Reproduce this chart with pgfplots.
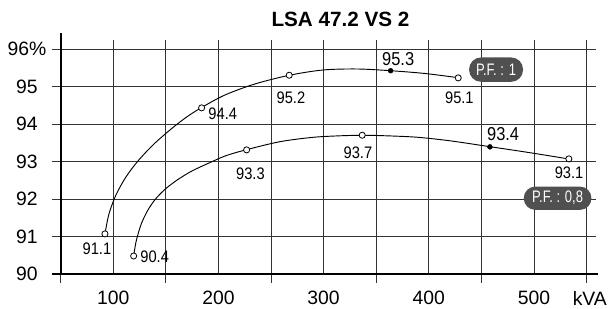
\documentclass[border=0pt]{standalone}
\usepackage{pgfplots}
\pgfplotsset{compat=1.18}
\usepackage{fontspec}
\setmainfont{Liberation Sans}
\newfontfamily\condfont{Liberation Sans}[FakeStretch=0.88]
\newfontfamily\pffont{Liberation Sans}[FakeStretch=0.78]
\definecolor{pill}{HTML}{505050}
\definecolor{gridc}{HTML}{333333}
\begin{document}
\begin{tikzpicture}
\path[use as bounding box] (-45.5pt,-26.25pt) rectangle (410.5pt,205.5pt);
\begin{axis}[
  at={(0pt,0pt)}, anchor=south west,
  scale only axis, width=401.5pt, height=175.5pt,
  xmin=50, xmax=559, ymin=90, ymax=96.24,
  axis line style={draw=none},
  clip=false,
  xtick={100,200,300,400,500}, xticklabels={100,200,300,400,500},
  minor xtick={50,150,250,350,450,550},
  ytick={90,91,92,93,94,95,96}, yticklabels={90,91,92,93,94,95,96\%},
  xtick pos=bottom, ytick pos=left,
  tick align=outside,
  major tick length=6.75pt, minor tick length=6.75pt,
  major x tick style={draw=none},
  minor x tick style={gridc, line width=0.6pt},
  major y tick style={gridc, line width=0.6pt},
  grid=both,
  major grid style={gridc, line width=0.6pt},
  minor grid style={gridc, line width=0.6pt},
  /pgf/number format/assume math mode=true,
  tick label style={font=\fontsize{14.5}{16}\selectfont},
  xticklabel style={anchor=base, inner sep=0pt, yshift=-16.5pt},
  yticklabel style={anchor=center, inner sep=0pt, xshift=-18.5pt},
]
% P.F. 1 curve
\addplot[black, line width=0.7pt, smooth, tension=0.5] coordinates {
(92.11,91.067) (95.91,91.60) (102.57,92.107) (112.07,92.587) (123.48,93.013)
(137.74,93.44) (153.90,93.84) (169.11,94.173) (184.03,94.44) (206.18,94.773)
(234.70,95.067) (267.30,95.299) (299.33,95.44) (331.65,95.467) (363.69,95.421)
(396.29,95.347) (427.95,95.235)};
% P.F. 0.8 curve
\addplot[black, line width=0.7pt, smooth, tension=0.5] coordinates {
(119.39,90.48) (122.05,90.907) (126.81,91.347) (132.98,91.707) (140.59,92.013)
(150.10,92.28) (161.50,92.52) (174.81,92.747) (190.02,92.947) (207.13,93.155)
(226.81,93.315) (258.46,93.528) (290.11,93.645) (315.49,93.685) (336.69,93.699)
(356.65,93.688) (388.40,93.648) (420.06,93.552) (458.08,93.395) (496.10,93.235)
(533.17,93.067)};
% open markers
\addplot[only marks, mark=*, mark size=2.3pt, mark options={fill=white, draw=black, line width=0.6pt}] coordinates {
(92.1,91.07) (184.0,94.43) (267.3,95.30) (428.0,95.23)
(119.4,90.48) (226.8,93.31) (336.7,93.70) (533.2,93.07)};
% filled markers
\addplot[only marks, mark=*, mark size=1.8pt, mark options={fill=black, draw=black}] coordinates {
(363.7,95.42) (458.1,93.39)};
% axis lines
\draw[line width=1.5pt] (axis cs:50,90) -- (axis cs:50,96.43);
\draw[line width=1.3pt] (axis cs:41.7,90) -- (axis cs:560.7,90);
% value labels
\begin{scope}[every node/.style={anchor=base, inner sep=0pt, font=\condfont\fontsize{12.5}{14}\selectfont}]
\node at (axis cs:84.5,90.533) {91.1};
\node at (axis cs:139.4,90.301) {90.4};
\node at (axis cs:204.1,94.133) {94.4};
\node at (axis cs:268.9,94.552) {95.2};
\node at (axis cs:230.4,92.525) {93.3};
\node at (axis cs:332.6,93.085) {93.7};
\node at (axis cs:429.1,94.552) {95.1};
\node at (axis cs:533.4,92.552) {93.1};
\end{scope}
\begin{scope}[every node/.style={anchor=base, inner sep=0pt, font=\condfont\fontsize{14}{16}\selectfont}]
\node at (axis cs:370.9,95.573) {95.3};
\node at (axis cs:470.7,93.573) {93.4};
\end{scope}
% P.F. pills
\node[fill=pill, text=white, rounded corners=9pt, minimum height=18.3pt, minimum width=40.5pt, inner sep=0pt, font=\pffont\fontsize{12.5}{14}\selectfont] at (axis cs:464,95.45) {P.F. : 1};
\node[fill=pill, text=white, rounded corners=8.7pt, minimum height=17.5pt, minimum width=50.8pt, inner sep=0pt, font=\pffont\fontsize{12.5}{14}\selectfont] at (axis cs:522.5,92.02) {P.F. : 0,8};
% title and unit
\node[anchor=base, font=\bfseries\fontsize{15.5}{18}\selectfont] at (axis cs:316,96.61) {LSA 47.2 VS 2};
\node[anchor=base, inner sep=0pt, font=\fontsize{14.5}{16}\selectfont] at (axis cs:553.1,89.173) {kVA};
\end{axis}
\end{tikzpicture}
\end{document}
